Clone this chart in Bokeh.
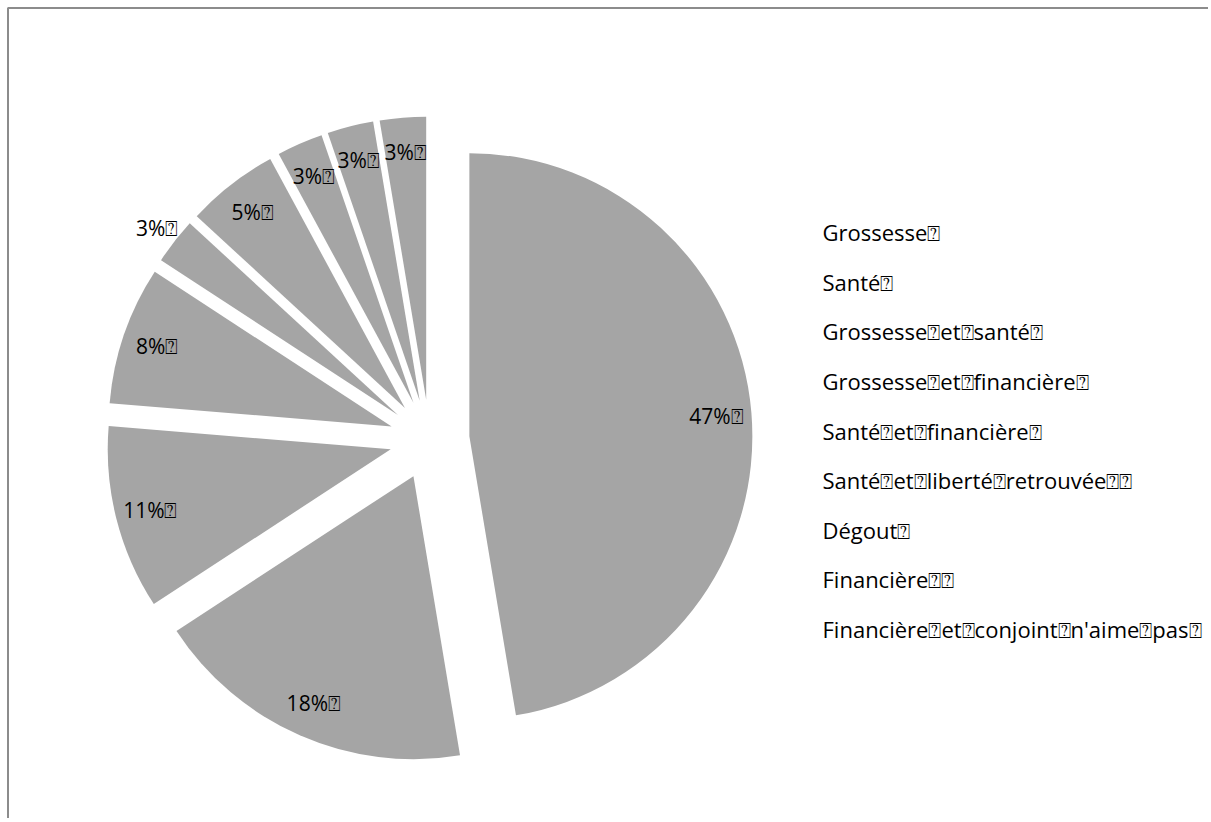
import numpy as np
from bokeh.plotting import figure
from bokeh.models import Range1d, ColumnDataSource, BoxAnnotation
from bokeh.core.properties import value
from bokeh.embed import file_html
from bokeh.resources import INLINE

# ---------------- data ----------------
BOX = "\u2370"  # the box glyph seen in the reference texts
categories = [
    "Grossesse" + BOX,
    "Santé" + BOX,
    "Grossesse" + BOX + "et" + BOX + "santé" + BOX,
    "Grossesse" + BOX + "et" + BOX + "financière" + BOX,
    "Santé" + BOX + "et" + BOX + "financière" + BOX,
    "Santé" + BOX + "et" + BOX + "liberté" + BOX + "retrouvée" + BOX + BOX,
    "Dégout" + BOX,
    "Financière" + BOX + BOX,
    "Financière" + BOX + "et" + BOX + "conjoint" + BOX + "n'aime" + BOX + "pas" + BOX,
]
counts = [18, 7, 4, 3, 1, 2, 1, 1, 1]

# ---------------- layout / style ----------------
W, H = 1208, 818
PAGE_H = 822
def py(page_y):
    return PAGE_H - page_y

CX, CY = 429, py(439)
R = 283
EXPLODE = 40
LABEL_R = 248
LABEL_R_OUT = 305
OUTSIDE = {4}
FILL = "#a5a5a5"
FONT = "Open Sans"

total = float(sum(counts))
frac = np.array(counts) / total
t2 = np.cumsum(frac) * 2 * np.pi          # clockwise from 12 o'clock
t1 = t2 - frac * 2 * np.pi
mid = (t1 + t2) / 2

ax = CX + EXPLODE * np.sin(mid)
ay = CY + EXPLODE * np.cos(mid)
start = np.pi / 2 - t2
end = np.pi / 2 - t1

lr = np.array([LABEL_R_OUT if i in OUTSIDE else LABEL_R for i in range(len(counts))])
lx = ax + lr * np.sin(mid)
ly = ay + lr * np.cos(mid)
pct = [f"{round(100 * c / total)}%" + BOX for c in counts]

src = ColumnDataSource(dict(x=ax, y=ay, start=start, end=end, lx=lx, ly=ly,
                            pct=pct, cat=categories))

p = figure(width=W, height=H, output_backend="svg", toolbar_location=None,
           x_range=Range1d(0, W), y_range=Range1d(py(H), py(0)),
           x_axis_location=None, y_axis_location=None, min_border=0,
           background_fill_color="white", border_fill_color="white")
p.grid.visible = False
p.outline_line_color = None

p.wedge(x="x", y="y", radius=R, start_angle="start", end_angle="end",
        direction="anticlock", fill_color=FILL, line_color=None, source=src)

p.text(x="lx", y="ly", text="pct", source=src, text_align="center",
       text_baseline="middle", text_font=value(FONT), text_font_size="21px",
       text_color="#000000")

# legend (no markers in the reference)
LEG_X = 822
LEG_Y0 = 231.7
LEG_DY = 49.6
leg_y = [py(LEG_Y0 + i * LEG_DY) for i in range(len(categories))]
leg_src = ColumnDataSource(dict(x=[LEG_X] * len(categories), y=leg_y, t=categories))
p.text(x="x", y="y", text="t", source=leg_src, text_align="left",
       text_baseline="alphabetic", text_font=value(FONT), text_font_size="22px",
       text_color="#000000")

# chart frame: its right and bottom edges lie outside the visible window
p.add_layout(BoxAnnotation(left=7.5, top=py(7.5), right=W + 20, bottom=py(H + 20),
                           fill_color=None, fill_alpha=0,
                           line_color="#8c8c8c", line_alpha=1.0, line_width=2))

open("out.html", "w").write(file_html(p, INLINE))
